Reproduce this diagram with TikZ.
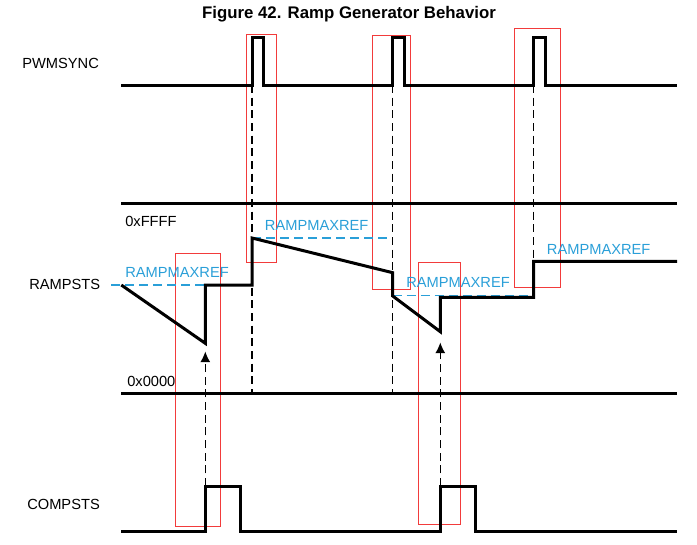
\documentclass[tikz,border=0pt]{standalone}
\usepackage{fontspec}
\setmainfont{Liberation Sans}
\usepackage{xcolor}
\definecolor{waveBlack}{HTML}{000000}
\definecolor{refBlue}{HTML}{2A9FD8}
\definecolor{markRed}{HTML}{F23B3B}
\usepackage{tikz}
\usetikzlibrary{arrows.meta,positioning}
\tikzset{
    wave/.style={
        draw=waveBlack,
        line width=2.25pt,
        line join=miter
    },
    axisline/.style={
        draw=waveBlack,
        line width=2.25pt
    },
    guide/.style={
        draw=waveBlack,
        line width=0.8pt,
        dash pattern=on 6pt off 3.5pt
    },
    trigger/.style={
        -{Latex[length=8pt,width=7.5pt]},
        draw=waveBlack,
        line width=0.8pt,
        dash pattern=on 6pt off 3.5pt
    },
    refline/.style={
        draw=refBlue,
        line width=0.9pt,
        dash pattern=on 7pt off 3.5pt
    },
    markbox/.style={
        draw=markRed,
        line width=0.75pt
    },
    signame/.style={
        font=\fontsize{11}{13}\selectfont,
        anchor=base west,
        inner sep=0pt
    },
    reflabel/.style={
        font=\fontsize{11}{13}\selectfont,
        text=refBlue,
        anchor=base west,
        inner sep=0pt
    }
}

\begin{document}
\begin{tikzpicture}[x=0.75pt,y=-0.75pt]
    \useasboundingbox (0,0) rectangle (697,544);

    % Title
    \node[font=\fontsize{12.6}{15}\selectfont\bfseries, anchor=base, inner sep=0pt]
        (title) at (349,18.3) {Figure 42. Ramp Generator Behavior};

    % Highlight boxes
    \draw[markbox] (246.5,34) rectangle (276.3,262);
    \draw[markbox] (372.5,35.3) rectangle (410.3,289);
    \draw[markbox] (514.3,28.3) rectangle (560.3,287.3);
    \draw[markbox] (175.7,253.3) rectangle (220.3,526.3);
    \draw[markbox] (418.5,262) rectangle (460.5,524.3);

    % Signal names
    \node[signame] (pwmsync) at (22,68.5) {PWMSYNC};
    \node[signame] (rampsts) at (29,289.2) {RAMPSTS};
    \node[signame] (compsts) at (27,509.2) {COMPSTS};
    \node[signame] (ffff) at (125,226.5) {0xFFFF};
    \node[signame] (zero) at (127,386) {0x0000};

    % Ramp reference levels
    \draw[refline] (111,285) -- (205.3,285);
    \draw[refline] (252,238) -- (392.7,238);
    \draw[refline] (392.7,295.5) -- (532,295.5);
    \node[reflabel] (ref1) at (125,277.5) {RAMPMAXREF};
    \node[reflabel] (ref2) at (264.7,230) {RAMPMAXREF};
    \node[reflabel] (ref3) at (406,287.7) {RAMPMAXREF};
    \node[reflabel] (ref4) at (546.7,254) {RAMPMAXREF};

    % Sync guides
    \draw[guide] (252,85) -- (252,393.7);
    \draw[guide] (392.7,85) -- (392.7,393.7);
    \draw[guide] (533.5,85) -- (533.5,261.3);

    % Comparator triggers
    \coordinate (cmp1) at (205.3,486);
    \coordinate (low1) at (205.3,351.5);
    \coordinate (cmp2) at (440.3,486);
    \coordinate (low2) at (440.3,342.5);
    \draw[trigger] (cmp1) -- (low1);
    \draw[trigger] (cmp2) -- (low2);

    % PWMSYNC
    \draw[wave] (121,85) -- (252,85) -- (252,37) -- (263.7,37) -- (263.7,85)
        -- (392.5,85) -- (392.5,37) -- (404.3,37) -- (404.3,85)
        -- (533.5,85) -- (533.5,37) -- (545.7,37) -- (545.7,85) -- (677,85);

    % RAMPSTS
    \draw[axisline] (121,203) -- (677,203);
    \draw[axisline] (121,393.7) -- (677,393.7);
    \draw[wave] (121.3,285) -- (205.3,343.3) -- (205.3,285) -- (252,285)
        -- (252,238) -- (392.7,272.7) -- (392.7,296) -- (440.3,331.7)
        -- (440.3,297.3) -- (533.5,297.3) -- (533.5,261.3) -- (677,261.3);

    % COMPSTS
    \draw[wave] (121,531) -- (205.3,531) -- (205.3,486) -- (240.3,486) -- (240.3,531)
        -- (440.3,531) -- (440.3,486) -- (475.7,486) -- (475.7,531) -- (677,531);
\end{tikzpicture}
\end{document}
